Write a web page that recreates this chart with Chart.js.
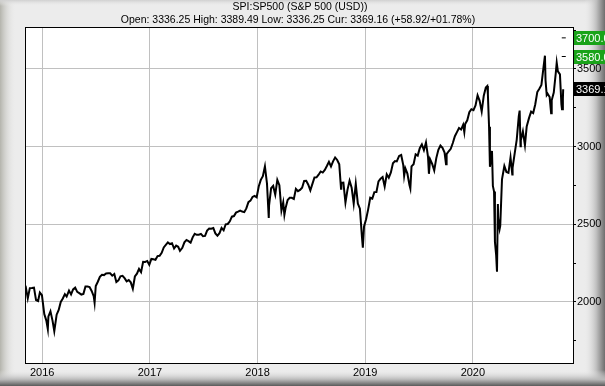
<!DOCTYPE html>
<html>
<head>
<meta charset="utf-8">
<script src="https://cdn.jsdelivr.net/npm/chart.js@4"></script>
<style>
  body { margin: 0; background: #ececec; }
  canvas { display: block; }
</style>
</head>
<body>
<canvas id="spxChart" width="605" height="386"></canvas>
<script>
// S&P 500 closes (weekly, plus a few big daily swings)
var dates = [
  '2015-11-03','2015-11-06','2015-11-13','2015-11-20','2015-11-27','2015-12-04','2015-12-11','2015-12-18','2015-12-24','2015-12-31',
  '2016-01-08','2016-01-15','2016-01-20','2016-01-22','2016-01-29','2016-02-05','2016-02-11','2016-02-19','2016-02-26','2016-03-04',
  '2016-03-11','2016-03-18','2016-03-24','2016-04-01','2016-04-08','2016-04-15','2016-04-22','2016-04-29','2016-05-06','2016-05-13',
  '2016-05-20','2016-05-27','2016-06-03','2016-06-10','2016-06-17','2016-06-24','2016-06-27','2016-07-01','2016-07-08','2016-07-15',
  '2016-07-22','2016-07-29','2016-08-05','2016-08-12','2016-08-19','2016-08-26','2016-09-02','2016-09-09','2016-09-16','2016-09-23',
  '2016-09-30','2016-10-07','2016-10-14','2016-10-21','2016-10-28','2016-11-04','2016-11-11','2016-11-18','2016-11-25','2016-12-02',
  '2016-12-09','2016-12-16','2016-12-23','2016-12-30',
  '2017-01-06','2017-01-13','2017-01-20','2017-01-27','2017-02-03','2017-02-10','2017-02-17','2017-02-24','2017-03-03','2017-03-10',
  '2017-03-17','2017-03-24','2017-03-31','2017-04-07','2017-04-13','2017-04-21','2017-04-28','2017-05-05','2017-05-12','2017-05-19',
  '2017-05-26','2017-06-02','2017-06-09','2017-06-16','2017-06-23','2017-06-30','2017-07-07','2017-07-14','2017-07-21','2017-07-28',
  '2017-08-04','2017-08-11','2017-08-18','2017-08-25','2017-09-01','2017-09-08','2017-09-15','2017-09-22','2017-09-29','2017-10-06',
  '2017-10-13','2017-10-20','2017-10-27','2017-11-03','2017-11-10','2017-11-17','2017-11-24','2017-12-01','2017-12-08','2017-12-15',
  '2017-12-22','2017-12-29',
  '2018-01-05','2018-01-12','2018-01-19','2018-01-26','2018-02-02','2018-02-08','2018-02-09','2018-02-16','2018-02-23','2018-03-02',
  '2018-03-09','2018-03-16','2018-03-23','2018-03-29','2018-04-02','2018-04-06','2018-04-13','2018-04-20','2018-04-27','2018-05-04',
  '2018-05-11','2018-05-18','2018-05-25','2018-06-01','2018-06-08','2018-06-15','2018-06-22','2018-06-29','2018-07-06','2018-07-13',
  '2018-07-20','2018-07-27','2018-08-03','2018-08-10','2018-08-17','2018-08-24','2018-08-31','2018-09-07','2018-09-14','2018-09-21',
  '2018-09-28','2018-10-05','2018-10-11','2018-10-12','2018-10-19','2018-10-26','2018-11-02','2018-11-09','2018-11-16','2018-11-23',
  '2018-11-30','2018-12-07','2018-12-14','2018-12-21','2018-12-24','2018-12-28',
  '2019-01-04','2019-01-11','2019-01-18','2019-01-25','2019-02-01','2019-02-08','2019-02-15','2019-02-22','2019-03-01','2019-03-08',
  '2019-03-15','2019-03-22','2019-03-29','2019-04-05','2019-04-12','2019-04-18','2019-04-26','2019-05-03','2019-05-10','2019-05-13',
  '2019-05-17','2019-05-24','2019-05-31','2019-06-03','2019-06-07','2019-06-14','2019-06-21','2019-06-28','2019-07-05','2019-07-12',
  '2019-07-19','2019-07-26','2019-08-02','2019-08-05','2019-08-09','2019-08-16','2019-08-23','2019-08-30','2019-09-06','2019-09-13',
  '2019-09-20','2019-09-27','2019-10-02','2019-10-04','2019-10-11','2019-10-18','2019-10-25','2019-11-01','2019-11-08','2019-11-15',
  '2019-11-22','2019-11-29','2019-12-03','2019-12-06','2019-12-13','2019-12-20','2019-12-27',
  '2020-01-03','2020-01-10','2020-01-17','2020-01-24','2020-01-31','2020-02-07','2020-02-14','2020-02-19','2020-02-21','2020-02-25',
  '2020-02-28','2020-03-06','2020-03-09','2020-03-13','2020-03-16','2020-03-20','2020-03-23','2020-03-26','2020-03-27','2020-04-01',
  '2020-04-03','2020-04-09','2020-04-17','2020-04-24','2020-05-01','2020-05-08','2020-05-14','2020-05-15','2020-05-22','2020-05-29',
  '2020-06-05','2020-06-08','2020-06-11','2020-06-12','2020-06-19','2020-06-26','2020-07-02','2020-07-10','2020-07-17','2020-07-24',
  '2020-07-31','2020-08-07','2020-08-14','2020-08-21','2020-08-28','2020-09-02','2020-09-04','2020-09-08','2020-09-11','2020-09-18',
  '2020-09-23','2020-09-25','2020-10-02','2020-10-09','2020-10-12','2020-10-16','2020-10-23','2020-10-28','2020-10-30','2020-11-02',
  '2020-11-03'
];
var closes = [
  2109, 2099, 2023, 2089, 2090, 2092, 2012, 2006, 2061, 2044,
  1922, 1880, 1825, 1907, 1940, 1880, 1812, 1918, 1948, 2000,
  2022, 2050, 2035, 2073, 2048, 2081, 2092, 2065, 2057, 2047,
  2052, 2099, 2099, 2096, 2071, 2037, 1995, 2103, 2130, 2162,
  2175, 2173, 2183, 2184, 2184, 2169, 2180, 2128, 2139, 2165,
  2168, 2153, 2133, 2141, 2126, 2085, 2164, 2182, 2213, 2192,
  2259, 2258, 2264, 2239,
  2277, 2275, 2271, 2295, 2297, 2316, 2351, 2367, 2383, 2373,
  2378, 2344, 2363, 2355, 2329, 2349, 2384, 2399, 2391, 2382,
  2416, 2439, 2432, 2433, 2438, 2423, 2425, 2459, 2473, 2472,
  2476, 2441, 2426, 2443, 2477, 2461, 2500, 2502, 2519, 2549,
  2553, 2575, 2581, 2588, 2582, 2578, 2602, 2642, 2652, 2676,
  2683, 2674,
  2743, 2786, 2810, 2873, 2762, 2540, 2620, 2732, 2747, 2691,
  2786, 2752, 2588, 2641, 2560, 2604, 2656, 2670, 2670, 2663,
  2728, 2713, 2721, 2735, 2779, 2780, 2755, 2718, 2760, 2801,
  2802, 2819, 2840, 2833, 2850, 2875, 2902, 2872, 2905, 2930,
  2914, 2886, 2728, 2767, 2768, 2640, 2723, 2781, 2736, 2633,
  2760, 2633, 2600, 2417, 2350, 2486,
  2532, 2596, 2671, 2665, 2707, 2708, 2776, 2793, 2804, 2743,
  2822, 2800, 2834, 2893, 2907, 2905, 2940, 2946, 2881, 2812,
  2860, 2826, 2752, 2730, 2873, 2887, 2950, 2942, 2990, 3014,
  2977, 3026, 2932, 2825, 2919, 2889, 2847, 2926, 2979, 3007,
  2992, 2962, 2887, 2952, 2970, 2986, 3023, 3067, 3093, 3120,
  3110, 3141, 3093, 3146, 3169, 3221, 3241,
  3235, 3265, 3330, 3295, 3226, 3328, 3380, 3390, 3338, 3128,
  2870, 2972, 2747, 2711, 2386, 2305, 2195, 2630, 2541, 2470,
  2489, 2790, 2875, 2837, 2831, 2930, 2820, 2864, 2955, 3044,
  3194, 3232, 3002, 3041, 3098, 3009, 3130, 3185, 3225, 3216,
  3271, 3351, 3373, 3397, 3508, 3585, 3427, 3332, 3341, 3319,
  3215, 3298, 3348, 3477, 3540, 3484, 3465, 3271, 3240, 3310,
  3369
];

// targets and current price shown on the right
var targetLevels = [3700, 3580];
var curPrice = 3369.16;
var yearTicks = [2016, 2017, 2018, 2019, 2020];

function toYear(s) {
  var d = new Date(s + 'T00:00:00Z');
  var y = d.getUTCFullYear();
  var a = Date.UTC(y, 0, 1), b = Date.UTC(y + 1, 0, 1);
  return y + (d.getTime() - a) / (b - a);
}

var pricePoints = dates.map(function (d, i) { return { x: toYear(d), y: closes[i] }; });
var targetPoints = targetLevels.map(function (v) { return { x: toYear('2020-11-05'), y: v }; });

var FONT = '"Liberation Sans", Arial, sans-serif';

// frame, header and right-hand price boxes
var framePlugin = {
  id: 'frame',
  beforeDraw: function (chart) {
    var c = chart.ctx, W = chart.width, H = chart.height, a = chart.chartArea;
    c.save();
    c.fillStyle = '#ececec';
    c.fillRect(0, 0, W, H);
    var g = c.createLinearGradient(0, 0, 16, 0);
    g.addColorStop(0, '#b4b4ac');
    g.addColorStop(1, 'rgba(236,236,236,0)');
    c.fillStyle = g;
    c.fillRect(0, 0, 16, H);
    g = c.createLinearGradient(0, 0, 0, 6);
    g.addColorStop(0, '#d0d0d0');
    g.addColorStop(1, 'rgba(236,236,236,0)');
    c.fillStyle = g;
    c.fillRect(0, 0, W, 6);
    g = c.createLinearGradient(584, 0, W, 0);
    g.addColorStop(0, 'rgba(236,236,236,0)');
    g.addColorStop(0.6, '#bdbdbd');
    g.addColorStop(1, '#6e6e6e');
    c.fillStyle = g;
    c.fillRect(584, 0, W - 584, H);
    g = c.createLinearGradient(0, 370, 0, H);
    g.addColorStop(0, 'rgba(236,236,236,0)');
    g.addColorStop(0.6, '#b8b8b8');
    g.addColorStop(1, '#5a5a5a');
    c.fillStyle = g;
    c.fillRect(0, 370, W, H - 370);
    c.fillStyle = '#ffffff';
    c.fillRect(a.left, a.top, a.right - a.left, a.bottom - a.top);

    c.fillStyle = '#000';
    c.font = '10.5px ' + FONT;
    c.textAlign = 'center';
    c.textBaseline = 'middle';
    c.fillText('SPI:SP500 (S&P 500 (USD))', 300, 7);
    c.fillText('Open: 3336.25 High: 3389.49 Low: 3336.25 Cur: 3369.16 (+58.92/+01.78%)', 298, 20);
    c.restore();
  },
  afterDraw: function (chart) {
    var c = chart.ctx, a = chart.chartArea, ys = chart.scales.y;
    c.save();
    c.strokeStyle = '#000';
    c.lineWidth = 1;
    c.strokeRect(a.left + 0.5, a.top + 0.5, a.right - a.left, a.bottom - a.top);
    c.font = '11px ' + FONT;
    c.textAlign = 'left';
    c.textBaseline = 'middle';
    function box(v, bg, txt) {
      var y = Math.round(ys.getPixelForValue(v));
      c.fillStyle = bg;
      c.fillRect(a.right + 1, y - 7, 40, 14);
      c.fillStyle = '#fff';
      c.fillText(txt, a.right + 3, y + 0.5);
    }
    box(targetLevels[0], '#1aa31a', targetLevels[0].toFixed(2));
    box(targetLevels[1], '#1aa31a', targetLevels[1].toFixed(2));
    box(curPrice, '#000000', curPrice.toFixed(2));
    c.restore();
  }
};

var ctx = document.getElementById('spxChart').getContext('2d');
var spxChart = new Chart(ctx, {
  type: 'line',
  data: {
    datasets: [{
      label: 'SP500',
      data: pricePoints,
      borderColor: '#000000',
      borderWidth: 2,
      pointRadius: 0,
      tension: 0
    }, {
      label: 'targets',
      data: targetPoints,
      showLine: false,
      pointStyle: 'line',
      pointRadius: 2,
      borderColor: '#000000',
      borderWidth: 1
    }]
  },
  options: {
    responsive: false,
    animation: false,
    devicePixelRatio: 1,
    layout: { padding: { top: 27, left: 25, right: 0, bottom: 0 } },
    plugins: { legend: { display: false }, tooltip: { enabled: false } },
    scales: {
      x: {
        type: 'linear',
        min: 2015.84,
        max: 2020.93,
        afterFit: function (s) { s.height = 23; },
        afterBuildTicks: function (s) { s.ticks = yearTicks.map(function (v) { return { value: v }; }); },
        ticks: {
          padding: 3,
          color: '#000',
          font: { family: FONT, size: 11 },
          callback: function (v) { return String(v); }
        },
        grid: { color: '#c0c0c0', drawTicks: false },
        border: { color: '#000' }
      },
      y: {
        position: 'right',
        min: 1607,
        max: 3770,
        afterFit: function (s) { s.width = 32; },
        ticks: {
          stepSize: 250,
          includeBounds: false,
          padding: 1,
          color: '#000',
          font: { family: FONT, size: 11 },
          callback: function (v) { return v % 500 === 0 ? String(v) : ''; }
        },
        grid: {
          color: function (c) { return c.tick && c.tick.value % 500 === 0 ? '#c0c0c0' : 'rgba(0,0,0,0)'; },
          tickColor: '#000',
          tickLength: 3
        },
        border: { color: '#000' }
      }
    }
  },
  plugins: [framePlugin]
});
</script>
</body>
</html>
